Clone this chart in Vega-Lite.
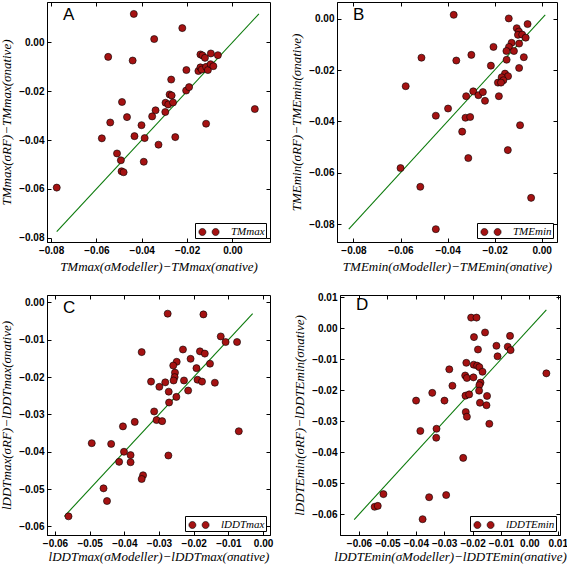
{
  "$schema": "https://vega.github.io/schema/vega-lite/v6.json",
  "padding": {"left": 0, "top": 1, "right": 0, "bottom": 0},
  "background": "white",
  "datasets": {
    "A": [{"x":-0.0435,"y":0.0117},{"x":-0.0221,"y":0.0059},{"x":-0.0345,"y":0.0014},{"x":-0.0548,"y":-0.0059},{"x":-0.0440,"y":-0.0074},{"x":-0.0141,"y":-0.0049},{"x":-0.0132,"y":-0.0053},{"x":-0.0121,"y":-0.0063},{"x":-0.0095,"y":-0.0045},{"x":-0.0064,"y":-0.0052},{"x":-0.0203,"y":-0.0113},{"x":-0.0150,"y":-0.0117},{"x":-0.0141,"y":-0.0102},{"x":-0.0135,"y":-0.0111},{"x":-0.0116,"y":-0.0100},{"x":-0.0108,"y":-0.0113},{"x":-0.0096,"y":-0.0089},{"x":-0.0084,"y":-0.0097},{"x":-0.0270,"y":-0.0152},{"x":-0.0204,"y":-0.0197},{"x":-0.0191,"y":-0.0183},{"x":-0.0277,"y":-0.0213},{"x":-0.0268,"y":-0.0217},{"x":-0.0487,"y":-0.0244},{"x":-0.0295,"y":-0.0247},{"x":-0.0283,"y":-0.0254},{"x":-0.0262,"y":-0.0246},{"x":-0.0339,"y":-0.0278},{"x":-0.0296,"y":-0.0285},{"x":-0.0354,"y":-0.0303},{"x":-0.0465,"y":-0.0306},{"x":-0.0539,"y":-0.0328},{"x":-0.0401,"y":-0.0339},{"x":0.0099,"y":-0.0273},{"x":-0.0116,"y":-0.0333},{"x":-0.0576,"y":-0.0393},{"x":-0.0432,"y":-0.0384},{"x":-0.0387,"y":-0.0392},{"x":-0.0252,"y":-0.0388},{"x":-0.0326,"y":-0.0419},{"x":-0.0509,"y":-0.0455},{"x":-0.0492,"y":-0.0483},{"x":-0.0391,"y":-0.0489},{"x":-0.0489,"y":-0.0528},{"x":-0.0480,"y":-0.0532},{"x":-0.0775,"y":-0.0595}],
    "A_line": [{"x":-0.0775,"y":-0.0775},{"x":0.0117,"y":0.0117}],
    "B": [{"x":-0.0374,"y":0.0015},{"x":-0.0140,"y":0.0001},{"x":-0.0106,"y":-0.0037},{"x":-0.0097,"y":-0.0050},{"x":-0.0101,"y":-0.0063},{"x":-0.0083,"y":-0.0062},{"x":-0.0060,"y":-0.0021},{"x":-0.0068,"y":-0.0074},{"x":-0.0128,"y":-0.0094},{"x":-0.0139,"y":-0.0110},{"x":-0.0096,"y":-0.0097},{"x":-0.0205,"y":-0.0110},{"x":-0.0150,"y":-0.0126},{"x":-0.0118,"y":-0.0126},{"x":-0.0299,"y":-0.0141},{"x":-0.0511,"y":-0.0152},{"x":-0.0363,"y":-0.0163},{"x":-0.0149,"y":-0.0160},{"x":-0.0076,"y":-0.0150},{"x":-0.0216,"y":-0.0183},{"x":-0.0096,"y":-0.0192},{"x":-0.0156,"y":-0.0214},{"x":-0.0143,"y":-0.0224},{"x":-0.0170,"y":-0.0228},{"x":-0.0163,"y":-0.0240},{"x":-0.0186,"y":-0.0249},{"x":-0.0173,"y":-0.0249},{"x":-0.0578,"y":-0.0263},{"x":-0.0291,"y":-0.0283},{"x":-0.0269,"y":-0.0298},{"x":-0.0250,"y":-0.0286},{"x":-0.0321,"y":-0.0302},{"x":-0.0182,"y":-0.0302},{"x":-0.0241,"y":-0.0320},{"x":-0.0398,"y":-0.0350},{"x":-0.0450,"y":-0.0378},{"x":-0.0324,"y":-0.0386},{"x":-0.0304,"y":-0.0383},{"x":-0.0092,"y":-0.0415},{"x":-0.0338,"y":-0.0440},{"x":-0.0144,"y":-0.0512},{"x":-0.0312,"y":-0.0543},{"x":-0.0600,"y":-0.0582},{"x":-0.0516,"y":-0.0655},{"x":-0.0045,"y":-0.0698},{"x":-0.0450,"y":-0.0820}],
    "B_line": [{"x":-0.0820,"y":-0.0820},{"x":0.0015,"y":0.0015}],
    "C": [{"x":-0.0275,"y":-0.0030},{"x":-0.0172,"y":-0.0032},{"x":-0.0122,"y":-0.0091},{"x":-0.0108,"y":-0.0106},{"x":-0.0075,"y":-0.0106},{"x":-0.0350,"y":-0.0133},{"x":-0.0231,"y":-0.0126},{"x":-0.0182,"y":-0.0131},{"x":-0.0168,"y":-0.0137},{"x":-0.0209,"y":-0.0151},{"x":-0.0249,"y":-0.0159},{"x":-0.0259,"y":-0.0169},{"x":-0.0153,"y":-0.0164},{"x":-0.0192,"y":-0.0176},{"x":-0.0254,"y":-0.0188},{"x":-0.0255,"y":-0.0200},{"x":-0.0323,"y":-0.0212},{"x":-0.0282,"y":-0.0214},{"x":-0.0258,"y":-0.0209},{"x":-0.0228,"y":-0.0209},{"x":-0.0189,"y":-0.0207},{"x":-0.0176,"y":-0.0212},{"x":-0.0139,"y":-0.0215},{"x":-0.0299,"y":-0.0226},{"x":-0.0216,"y":-0.0236},{"x":-0.0272,"y":-0.0239},{"x":-0.0250,"y":-0.0253},{"x":-0.0271,"y":-0.0268},{"x":-0.0314,"y":-0.0292},{"x":-0.0307,"y":-0.0315},{"x":-0.0291,"y":-0.0318},{"x":-0.0370,"y":-0.0320},{"x":-0.0404,"y":-0.0332},{"x":-0.0070,"y":-0.0345},{"x":-0.0494,"y":-0.0377},{"x":-0.0438,"y":-0.0379},{"x":-0.0401,"y":-0.0400},{"x":-0.0382,"y":-0.0409},{"x":-0.0273,"y":-0.0410},{"x":-0.0415,"y":-0.0427},{"x":-0.0382,"y":-0.0428},{"x":-0.0346,"y":-0.0463},{"x":-0.0350,"y":-0.0473},{"x":-0.0460,"y":-0.0498},{"x":-0.0450,"y":-0.0532},{"x":-0.0561,"y":-0.0573}],
    "C_line": [{"x":-0.0573,"y":-0.0573},{"x":-0.0030,"y":-0.0030}],
    "D": [{"x":-0.0205,"y":0.0035},{"x":-0.0186,"y":0.0035},{"x":-0.0195,"y":-0.0028},{"x":-0.0156,"y":-0.0013},{"x":-0.0068,"y":-0.0024},{"x":-0.0116,"y":-0.0056},{"x":-0.0181,"y":-0.0068},{"x":-0.0076,"y":-0.0059},{"x":-0.0066,"y":-0.0070},{"x":-0.0112,"y":-0.0090},{"x":0.0060,"y":-0.0145},{"x":-0.0282,"y":-0.0132},{"x":-0.0222,"y":-0.0111},{"x":-0.0196,"y":-0.0117},{"x":-0.0184,"y":-0.0120},{"x":-0.0176,"y":-0.0125},{"x":-0.0165,"y":-0.0140},{"x":-0.0226,"y":-0.0152},{"x":-0.0220,"y":-0.0160},{"x":-0.0197,"y":-0.0158},{"x":-0.0172,"y":-0.0175},{"x":-0.0176,"y":-0.0183},{"x":-0.0271,"y":-0.0185},{"x":-0.0177,"y":-0.0201},{"x":-0.0342,"y":-0.0208},{"x":-0.0225,"y":-0.0217},{"x":-0.0212,"y":-0.0213},{"x":-0.0149,"y":-0.0218},{"x":-0.0399,"y":-0.0233},{"x":-0.0299,"y":-0.0233},{"x":-0.0174,"y":-0.0240},{"x":-0.0151,"y":-0.0248},{"x":-0.0224,"y":-0.0270},{"x":-0.0220,"y":-0.0285},{"x":-0.0141,"y":-0.0308},{"x":-0.0327,"y":-0.0324},{"x":-0.0384,"y":-0.0331},{"x":-0.0328,"y":-0.0353},{"x":-0.0233,"y":-0.0418},{"x":-0.0353,"y":-0.0545},{"x":-0.0293,"y":-0.0538},{"x":-0.0514,"y":-0.0535},{"x":-0.0545,"y":-0.0576},{"x":-0.0534,"y":-0.0573},{"x":-0.0376,"y":-0.0616}],
    "D_line": [{"x":-0.0617,"y":-0.0617},{"x":0.0060,"y":0.0060}]
  },
  "vconcat": [
    {
      "hconcat": [
        {
          "width": 223, "height": 240,
          "title": {"text": "A", "anchor": "start", "orient": "top", "frame": "group", "offset": -22, "dx": 16},
          "layer": [
            {"data": {"name": "A_line"}, "mark": {"type": "line", "color": "#0b7a0b", "strokeWidth": 1.1},
             "encoding": {
               "x": {"field": "x", "type": "quantitative", "scale": {"domain": [-0.0818, 0.0166], "nice": false, "zero": false}, "axis": {"orient": "top", "labels": false, "title": null, "domain": false, "values": [-0.08, -0.06, -0.04, -0.02, 0]}},
               "y": {"field": "y", "type": "quantitative", "scale": {"domain": [-0.0818, 0.0166], "nice": false, "zero": false}, "axis": {"orient": "right", "labels": false, "title": null, "domain": false, "values": [-0.08, -0.06, -0.04, -0.02, 0]}}
             }},
            {"data": {"name": "A"}, "mark": {"type": "point", "filled": true, "shape": "circle", "size": 50, "stroke": "black", "strokeWidth": 0.6, "opacity": 1},
             "encoding": {
               "x": {"field": "x", "type": "quantitative", "scale": {"domain": [-0.0818, 0.0166], "nice": false, "zero": false}, "axis": {"orient": "bottom", "values": [-0.08, -0.06, -0.04, -0.02, 0], "format": ".2f", "title": "TMmax(σModeller)−TMmax(σnative)"}},
               "y": {"field": "y", "type": "quantitative", "scale": {"domain": [-0.0818, 0.0166], "nice": false, "zero": false}, "axis": {"orient": "left", "values": [-0.08, -0.06, -0.04, -0.02, 0], "format": ".2f", "title": "TMmax(σRF)−TMmax(σnative)"}},
               "color": {"datum": "TMmax", "type": "nominal", "scale": {"range": ["#a51212"]}, "legend": {"title": null}}
             }}
          ],
          "resolve": {"axis": {"x": "independent", "y": "independent"}}
        },
        {
          "width": 220, "height": 240,
          "title": {"text": "B", "anchor": "start", "orient": "top", "frame": "group", "offset": -22, "dx": 16},
          "layer": [
            {"data": {"name": "B_line"}, "mark": {"type": "line", "color": "#0b7a0b", "strokeWidth": 1.1},
             "encoding": {
               "x": {"field": "x", "type": "quantitative", "scale": {"domain": [-0.087, 0.0065], "nice": false, "zero": false}, "axis": {"orient": "top", "labels": false, "title": null, "domain": false, "values": [-0.08, -0.06, -0.04, -0.02, 0]}},
               "y": {"field": "y", "type": "quantitative", "scale": {"domain": [-0.087, 0.0065], "nice": false, "zero": false}, "axis": {"orient": "right", "labels": false, "title": null, "domain": false, "values": [-0.08, -0.06, -0.04, -0.02, 0]}}
             }},
            {"data": {"name": "B"}, "mark": {"type": "point", "filled": true, "shape": "circle", "size": 50, "stroke": "black", "strokeWidth": 0.6, "opacity": 1},
             "encoding": {
               "x": {"field": "x", "type": "quantitative", "scale": {"domain": [-0.087, 0.0065], "nice": false, "zero": false}, "axis": {"orient": "bottom", "values": [-0.08, -0.06, -0.04, -0.02, 0], "format": ".2f", "title": "TMEmin(σModeller)−TMEmin(σnative)"}},
               "y": {"field": "y", "type": "quantitative", "scale": {"domain": [-0.087, 0.0065], "nice": false, "zero": false}, "axis": {"orient": "left", "values": [-0.08, -0.06, -0.04, -0.02, 0], "format": ".2f", "title": "TMEmin(σRF)−TMEmin(σnative)"}},
               "color": {"datum": "TMEmin", "type": "nominal", "scale": {"range": ["#a51212"]}, "legend": {"title": null}}
             }}
          ],
          "resolve": {"axis": {"x": "independent", "y": "independent"}}
        }
      ],
      "spacing": 19,
      "resolve": {"scale": {"color": "independent"}, "legend": {"color": "independent"}}
    },
    {
      "hconcat": [
        {
          "width": 223, "height": 240,
          "title": {"text": "C", "anchor": "start", "orient": "top", "frame": "group", "offset": -22, "dx": 16},
          "layer": [
            {"data": {"name": "C_line"}, "mark": {"type": "line", "color": "#0b7a0b", "strokeWidth": 1.1},
             "encoding": {
               "x": {"field": "x", "type": "quantitative", "scale": {"domain": [-0.0623, 0.002], "nice": false, "zero": false}, "axis": {"orient": "top", "labels": false, "title": null, "domain": false, "values": [-0.06, -0.05, -0.04, -0.03, -0.02, -0.01, 0]}},
               "y": {"field": "y", "type": "quantitative", "scale": {"domain": [-0.0623, 0.002], "nice": false, "zero": false}, "axis": {"orient": "right", "labels": false, "title": null, "domain": false, "values": [-0.06, -0.05, -0.04, -0.03, -0.02, -0.01, 0]}}
             }},
            {"data": {"name": "C"}, "mark": {"type": "point", "filled": true, "shape": "circle", "size": 50, "stroke": "black", "strokeWidth": 0.6, "opacity": 1},
             "encoding": {
               "x": {"field": "x", "type": "quantitative", "scale": {"domain": [-0.0623, 0.002], "nice": false, "zero": false}, "axis": {"orient": "bottom", "values": [-0.06, -0.05, -0.04, -0.03, -0.02, -0.01, 0], "format": ".2f", "titlePadding": 2, "title": "lDDTmax(σModeller)−lDDTmax(σnative)"}},
               "y": {"field": "y", "type": "quantitative", "scale": {"domain": [-0.0623, 0.002], "nice": false, "zero": false}, "axis": {"orient": "left", "values": [-0.06, -0.05, -0.04, -0.03, -0.02, -0.01, 0], "format": ".2f", "title": "lDDTmax(σRF)−lDDTmax(σnative)"}},
               "color": {"datum": "lDDTmax", "type": "nominal", "scale": {"range": ["#a51212"]}, "legend": {"title": null}}
             }}
          ],
          "resolve": {"axis": {"x": "independent", "y": "independent"}}
        },
        {
          "width": 220, "height": 240,
          "title": {"text": "D", "anchor": "start", "orient": "top", "frame": "group", "offset": -22, "dx": 16},
          "layer": [
            {"data": {"name": "D_line"}, "mark": {"type": "line", "color": "#0b7a0b", "strokeWidth": 1.1},
             "encoding": {
               "x": {"field": "x", "type": "quantitative", "scale": {"domain": [-0.0667, 0.0108], "nice": false, "zero": false}, "axis": {"orient": "top", "labels": false, "title": null, "domain": false, "values": [-0.06, -0.05, -0.04, -0.03, -0.02, -0.01, 0, 0.01]}},
               "y": {"field": "y", "type": "quantitative", "scale": {"domain": [-0.0667, 0.0108], "nice": false, "zero": false}, "axis": {"orient": "right", "labels": false, "title": null, "domain": false, "values": [-0.06, -0.05, -0.04, -0.03, -0.02, -0.01, 0, 0.01]}}
             }},
            {"data": {"name": "D"}, "mark": {"type": "point", "filled": true, "shape": "circle", "size": 50, "stroke": "black", "strokeWidth": 0.6, "opacity": 1},
             "encoding": {
               "x": {"field": "x", "type": "quantitative", "scale": {"domain": [-0.0667, 0.0108], "nice": false, "zero": false}, "axis": {"orient": "bottom", "values": [-0.06, -0.05, -0.04, -0.03, -0.02, -0.01, 0, 0.01], "format": ".2f", "titlePadding": 2, "title": "lDDTEmin(σModeller)−lDDTEmin(σnative)"}},
               "y": {"field": "y", "type": "quantitative", "scale": {"domain": [-0.0667, 0.0108], "nice": false, "zero": false}, "axis": {"orient": "left", "values": [-0.06, -0.05, -0.04, -0.03, -0.02, -0.01, 0, 0.01], "format": ".2f", "title": "lDDTEmin(σRF)−lDDTEmin(σnative)"}},
               "color": {"datum": "lDDTEmin", "type": "nominal", "scale": {"range": ["#a51212"]}, "legend": {"title": null}}
             }}
          ],
          "resolve": {"axis": {"x": "independent", "y": "independent"}}
        }
      ],
      "spacing": 19,
      "resolve": {"scale": {"color": "independent"}, "legend": {"color": "independent"}}
    }
  ],
  "spacing": 17,
  "resolve": {"scale": {"color": "independent"}, "legend": {"color": "independent"}},
  "config": {
    "view": {"stroke": "black", "strokeWidth": 1},
    "title": {"font": "Liberation Sans", "fontSize": 17, "fontWeight": "normal", "color": "black", "baseline": "bottom"},
    "axis": {
      "grid": false,
      "domainColor": "black",
      "domainWidth": 1,
      "tickColor": "black",
      "tickWidth": 1,
      "tickSize": -4,
      "labelPadding": 7,
      "labelFont": "Liberation Sans",
      "labelFontSize": 10,
      "labelFontWeight": "bold",
      "labelColor": "black",
      "titleFont": "Liberation Serif",
      "titleFontStyle": "italic",
      "titleFontWeight": "normal",
      "titleFontSize": 13,
      "titleColor": "black",
      "titlePadding": 5
    },
    "legend": {
      "orient": "bottom-right",
      "offset": 4,
      "strokeColor": "black",
      "strokeWidth": 1,
      "fillColor": "white",
      "padding": 1,
      "cornerRadius": 0,
      "symbolType": "M -1.35 0 A 0.47 0.47 0 1 0 -0.41 0 A 0.47 0.47 0 1 0 -1.35 0 Z M 0.41 0 A 0.47 0.47 0 1 0 1.35 0 A 0.47 0.47 0 1 0 0.41 0 Z",
      "symbolSize": 225,
      "symbolOffset": 5,
      "labelOffset": 14,
      "labelFont": "Liberation Serif",
      "labelFontStyle": "italic",
      "labelFontSize": 11,
      "labelColor": "black",
      "symbolStrokeColor": "black",
      "symbolStrokeWidth": 0.6
    }
  }
}
